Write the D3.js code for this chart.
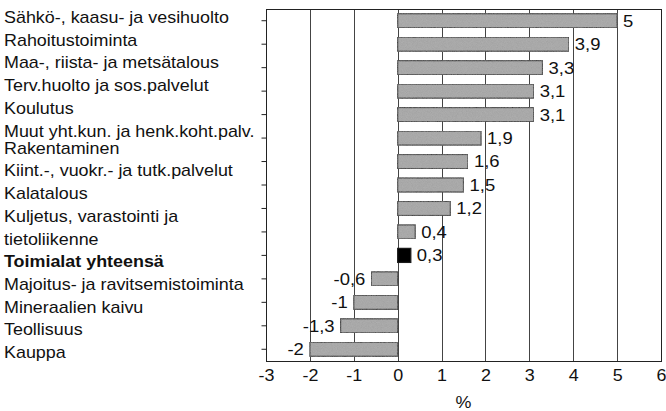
<!DOCTYPE html>
<html>
<head>
<meta charset="utf-8">
<script src="https://cdn.jsdelivr.net/npm/d3@7"></script>
<style>
  html, body { margin: 0; padding: 0; background: #fff; }
  svg { display: block; }
  text { font-family: "Liberation Sans", Arial, Helvetica, sans-serif; fill: #111; }
</style>
</head>
<body>
<svg id="chart" width="666" height="411"></svg>
<script>
// ---- data ----
const categories = [
  "Sähkö-, kaasu- ja vesihuolto",
  "Rahoitustoiminta",
  "Maa-, riista- ja metsätalous",
  "Terv.huolto ja sos.palvelut",
  "Koulutus",
  "Muut yht.kun. ja henk.koht.palv.",
  "Rakentaminen",
  "Kiint.-, vuokr.- ja tutk.palvelut",
  "Kalatalous",
  "Kuljetus, varastointi ja\ntietoliikenne",
  "Toimialat yhteensä",
  "Majoitus- ja ravitsemistoiminta",
  "Mineraalien kaivu",
  "Teollisuus",
  "Kauppa"
];
const values = [5, 3.9, 3.3, 3.1, 3.1, 1.9, 1.6, 1.5, 1.2, 0.4, 0.3, -0.6, -1, -1.3, -2];
const totalCategory = "Toimialat yhteensä";
const xTicks = [-3, -2, -1, 0, 1, 2, 3, 4, 5, 6];
const xDomain = [-3, 6];
const axisTitle = "%";

// ---- layout ----
const svg = d3.select("#chart");
const plot = { left: 266, right: 661, top: 9, bottom: 361 };
const stretch = 1.12; // horizontal stretch of the lettering

const x = d3.scaleLinear().domain(xDomain).range([plot.left, plot.right]);
const y = d3.scaleBand().domain(categories).range([plot.top, plot.bottom])
  .paddingInner(0.4).paddingOuter(0.2);

const fmt = v => String(v).replace(".", ",");

// gridlines
svg.append("g").selectAll("line").data(xTicks.filter(t => t > xDomain[0] && t < xDomain[1]))
  .join("line")
  .attr("x1", d => Math.round(x(d)) + 0.5).attr("x2", d => Math.round(x(d)) + 0.5)
  .attr("y1", plot.top).attr("y2", plot.bottom)
  .attr("stroke", "#444").attr("stroke-width", 1);

// bars texture
const defs = svg.append("defs");
const filt = defs.append("filter").attr("id", "grain").attr("x", 0).attr("y", 0).attr("width", 1).attr("height", 1);
filt.append("feTurbulence").attr("type", "fractalNoise").attr("baseFrequency", 1.2).attr("numOctaves", 1).attr("seed", 3).attr("result", "noise");
filt.append("feColorMatrix").attr("in", "noise").attr("type", "matrix")
  .attr("values", "0 0 0 0 0.6  0 0 0 0 0.6  0 0 0 0 0.6  0 0 0 0.35 0").attr("result", "tint");
filt.append("feComposite").attr("in", "tint").attr("in2", "SourceGraphic").attr("operator", "in").attr("result", "grain");
const merge = filt.append("feMerge");
merge.append("feMergeNode").attr("in", "SourceGraphic");
merge.append("feMergeNode").attr("in", "grain");

const data = categories.map((c, i) => ({ c, v: values[i] }));

svg.append("g").selectAll("rect").data(data).join("rect")
  .attr("x", d => x(Math.min(0, d.v)))
  .attr("y", d => y(d.c))
  .attr("width", d => Math.abs(x(d.v) - x(0)))
  .attr("height", y.bandwidth())
  .attr("fill", d => d.c === totalCategory ? "#000" : "#a0a0a0")
  .attr("filter", d => d.c === totalCategory ? null : "url(#grain)")
  .attr("stroke", "#1a1a1a").attr("stroke-width", 1.2);

// value labels
svg.append("g").selectAll("text").data(data).join("text")
  .attr("transform", d => `translate(${d.v >= 0 ? x(d.v) + 6 : x(d.v) - 6},${y(d.c) + y.bandwidth() / 2}) scale(${stretch},1)`)
  .attr("dy", "0.36em")
  .attr("text-anchor", d => d.v >= 0 ? "start" : "end")
  .attr("font-size", 16.5)
  .text(d => fmt(d.v));

// plot frame
svg.append("rect")
  .attr("x", plot.left + 0.5).attr("y", plot.top + 0.5)
  .attr("width", plot.right - plot.left).attr("height", plot.bottom - plot.top)
  .attr("fill", "none").attr("stroke", "#222").attr("stroke-width", 1);

// left axis ticks
const yAxis = svg.append("g").attr("transform", `translate(${plot.left + 0.5},0)`)
  .call(d3.axisLeft(y).tickSize(5).tickSizeOuter(0).tickFormat(""));
yAxis.select(".domain").remove();
yAxis.selectAll(".tick line").attr("stroke", "#222");

// bottom axis labels
const xAxis = svg.append("g").attr("transform", `translate(0,${plot.bottom})`)
  .call(d3.axisBottom(x).tickValues(xTicks).tickSize(0).tickPadding(9).tickFormat(d => fmt(d)));
xAxis.select(".domain").remove();
xAxis.selectAll("text")
  .attr("transform", `scale(${stretch},1)`)
  .attr("font-size", 16).attr("font-family", "Liberation Sans, Arial, sans-serif").attr("fill", "#111");

svg.append("text")
  .attr("transform", `translate(${(plot.left + plot.right) / 2},408) scale(${stretch},1)`)
  .attr("text-anchor", "middle").attr("font-size", 16)
  .text(axisTitle);

// category labels (free text block at left)
const lines = [];
categories.forEach(c => c.split("\n").forEach(t => lines.push({ t, bold: c === totalCategory })));
const lineStep = 22.7, firstBaseline = 23;
svg.append("g").selectAll("text").data(lines).join("text")
  .attr("transform", (d, k) => `translate(4,${firstBaseline + k * lineStep - (k >= 6 ? 5.5 : 0)}) scale(${stretch},1)`)
  .attr("font-size", 16)
  .attr("font-weight", d => d.bold ? "bold" : null)
  .text(d => d.t);
</script>
</body>
</html>
